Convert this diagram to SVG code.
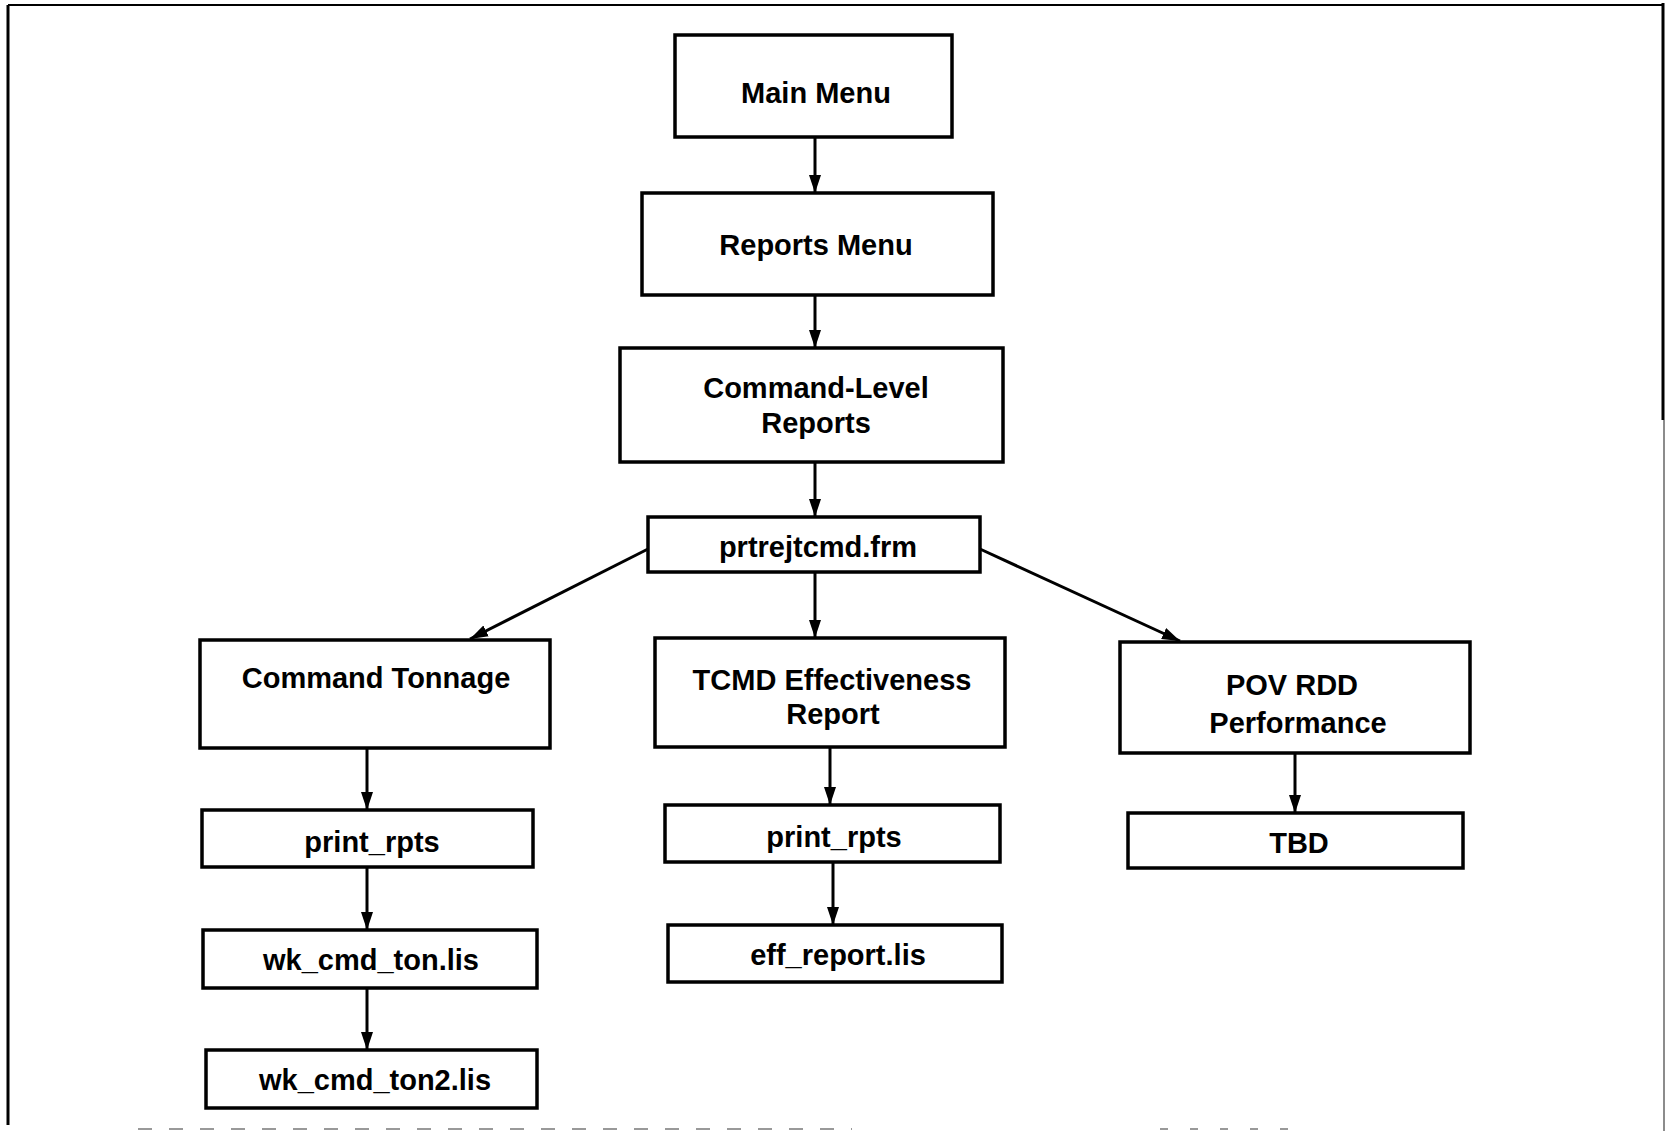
<svg xmlns="http://www.w3.org/2000/svg" width="1669" height="1131" viewBox="0 0 1669 1131">
<style>
.box{fill:#fff;stroke:#000;stroke-width:3.5}
.t{font-family:"Liberation Sans",Arial,sans-serif;font-weight:bold;font-size:29px;text-anchor:middle;fill:#000}
.c{stroke:#000;stroke-width:3;fill:none}
</style>
<defs>
<marker id="ah" markerUnits="userSpaceOnUse" markerWidth="20" markerHeight="14" refX="18" refY="7" orient="auto">
<path d="M0,1 L18,7 L0,13 Z" fill="#000"/>
</marker>
</defs>
<rect width="1669" height="1131" fill="#fff"/>
<g id="frame">
<line x1="8" y1="5" x2="1664" y2="5" stroke="#000" stroke-width="2"/>
<line x1="8" y1="5" x2="8" y2="1125" stroke="#000" stroke-width="3"/>
<line x1="1663" y1="3" x2="1663" y2="420" stroke="#000" stroke-width="3"/>
<line x1="1664" y1="420" x2="1664" y2="1131" stroke="#666" stroke-width="1.5"/>
<line x1="138" y1="1129" x2="852" y2="1129" stroke="#999" stroke-width="2" stroke-dasharray="14 17"/>
<line x1="1160" y1="1129" x2="1290" y2="1129" stroke="#999" stroke-width="2" stroke-dasharray="8 22"/>
</g>
<g id="connectors">
<line class="c" x1="815" y1="137" x2="815" y2="193" marker-end="url(#ah)"/>
<line class="c" x1="815" y1="295" x2="815" y2="348" marker-end="url(#ah)"/>
<line class="c" x1="815" y1="462" x2="815" y2="517" marker-end="url(#ah)"/>
<line class="c" x1="648" y1="549" x2="470" y2="639" marker-end="url(#ah)"/>
<line class="c" x1="815" y1="572" x2="815" y2="638" marker-end="url(#ah)"/>
<line class="c" x1="980" y1="549" x2="1180" y2="641" marker-end="url(#ah)"/>
<line class="c" x1="367" y1="748" x2="367" y2="810" marker-end="url(#ah)"/>
<line class="c" x1="367" y1="867" x2="367" y2="930" marker-end="url(#ah)"/>
<line class="c" x1="367" y1="988" x2="367" y2="1050" marker-end="url(#ah)"/>
<line class="c" x1="830" y1="747" x2="830" y2="805" marker-end="url(#ah)"/>
<line class="c" x1="833" y1="862" x2="833" y2="925" marker-end="url(#ah)"/>
<line class="c" x1="1295" y1="753" x2="1295" y2="813" marker-end="url(#ah)"/>
</g>
<g id="main-menu">
<rect class="box" x="675" y="35" width="277" height="102"/>
<text class="t" x="816" y="103">Main Menu</text>
</g>
<g id="reports-menu">
<rect class="box" x="642" y="193" width="351" height="102"/>
<text class="t" x="816" y="255">Reports Menu</text>
</g>
<g id="command-level-reports">
<rect class="box" x="620" y="348" width="383" height="114"/>
<text class="t" x="816" y="398">Command-Level</text>
<text class="t" x="816" y="433">Reports</text>
</g>
<g id="prtrejtcmd">
<rect class="box" x="648" y="517" width="332" height="55"/>
<text class="t" x="818" y="557">prtrejtcmd.frm</text>
</g>
<g id="command-tonnage">
<rect class="box" x="200" y="640" width="350" height="108"/>
<text class="t" x="376" y="688">Command Tonnage</text>
</g>
<g id="tcmd-effectiveness">
<rect class="box" x="655" y="638" width="350" height="109"/>
<text class="t" x="832" y="690">TCMD Effectiveness</text>
<text class="t" x="833" y="724">Report</text>
</g>
<g id="pov-rdd">
<rect class="box" x="1120" y="642" width="350" height="111"/>
<text class="t" x="1292" y="695">POV RDD</text>
<text class="t" x="1298" y="733">Performance</text>
</g>
<g id="print-rpts-1">
<rect class="box" x="202" y="810" width="331" height="57"/>
<text class="t" x="372" y="852">print_rpts</text>
</g>
<g id="wk-cmd-ton">
<rect class="box" x="203" y="930" width="334" height="58"/>
<text class="t" x="371" y="970">wk_cmd_ton.lis</text>
</g>
<g id="wk-cmd-ton2">
<rect class="box" x="206" y="1050" width="331" height="58"/>
<text class="t" x="375" y="1090">wk_cmd_ton2.lis</text>
</g>
<g id="print-rpts-2">
<rect class="box" x="665" y="805" width="335" height="57"/>
<text class="t" x="834" y="847">print_rpts</text>
</g>
<g id="eff-report">
<rect class="box" x="668" y="925" width="334" height="57"/>
<text class="t" x="838" y="965">eff_report.lis</text>
</g>
<g id="tbd">
<rect class="box" x="1128" y="813" width="335" height="55"/>
<text class="t" x="1299" y="853">TBD</text>
</g>
</svg>
